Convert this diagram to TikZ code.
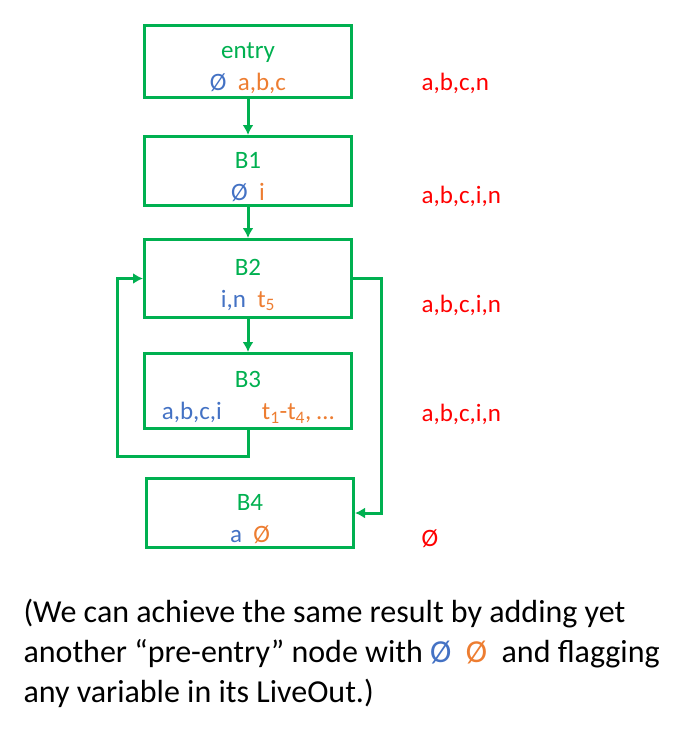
\documentclass[tikz,border=0pt]{standalone}
\usepackage{fontspec}
\setmainfont{Carlito}
\usetikzlibrary{arrows.meta,positioning}
\definecolor{cfggreen}{RGB}{0,176,80}
\definecolor{inblue}{RGB}{68,114,196}
\definecolor{outorange}{RGB}{237,125,49}
\definecolor{livered}{RGB}{255,0,0}
\tikzstyle{line} = [draw, cfggreen, line width=3pt, -{Latex[length=10pt,width=11pt]}]
\tikzstyle{block} = [draw=cfggreen, line width=3pt, rectangle, text=cfggreen, text centered, align=center, minimum width=207pt, font=\fontsize{25}{32}\selectfont]
\tikzstyle{live} = [text=livered, anchor=west, font=\fontsize{25}{29}\selectfont]
\newcommand{\usein}[1]{{\color{inblue}#1}}
\newcommand{\defout}[1]{{\color{outorange}#1}}
\newcommand{\bstrut}{\rule{0pt}{29pt}}

\begin{document}
\begin{tikzpicture}
        \useasboundingbox (0,0) rectangle (696pt,-739pt);
        \node[block, minimum height=72pt] (entry) at (248pt,-61.5pt) {\bstrut entry\\\usein{Ø}\ \ \defout{a,b,c}};
        \node[block, below of=entry, node distance=109.5pt, minimum height=69pt] (b1) {\bstrut B1\\\usein{Ø}\ \ \defout{i}};
        \node[block, below of=b1, node distance=107.5pt, minimum height=78pt] (b2) {\bstrut B2\\\usein{i,n}\ \ \defout{t\textsubscript{5}}};
        \node[block, below of=b2, node distance=112.5pt, minimum height=75pt] (b3) {\bstrut B3\\\usein{a,b,c,i}\hspace{1.6em}\defout{t\textsubscript{1}-t\textsubscript{4}, \dots}};
        \node[block, below of=b3, node distance=122pt, minimum height=69pt, xshift=2pt] (b4) {\bstrut B4\\\usein{a}\ \ \defout{Ø}};
        % live-out sets
        \node[live] (live0) at (418pt,-83.5pt) {a,b,c,n};
        \node[live] (live1) at (418pt,-196.5pt) {a,b,c,i,n};
        \node[live] (live2) at (418pt,-305.5pt) {a,b,c,i,n};
        \node[live] (live3) at (418pt,-414.5pt) {a,b,c,i,n};
        \node[live] (live4) at (418pt,-538.5pt) {Ø};
        \coordinate (loopl) at (117pt,-456pt);
        \coordinate (skipr) at (381pt,-513pt);
        \path[line] (entry) -- (b1);
        \path[line] (b1) -- (b2);
        \path[line] (b2) -- (b3);
        \path[line] (b3.south) |- (loopl) |- (b2.west);
        \path[line] (b2.east) -| (skipr) -- (b4.east);
        \node[anchor=base west, align=left, font=\fontsize{32}{40}\selectfont] (note) at (20pt,-702pt) {(We can achieve the same result by adding yet\\another “pre-entry” node with \usein{Ø}\ \ \defout{Ø}\ \ and flagging\\any variable in its LiveOut.)};
    \end{tikzpicture}
\end{document}
